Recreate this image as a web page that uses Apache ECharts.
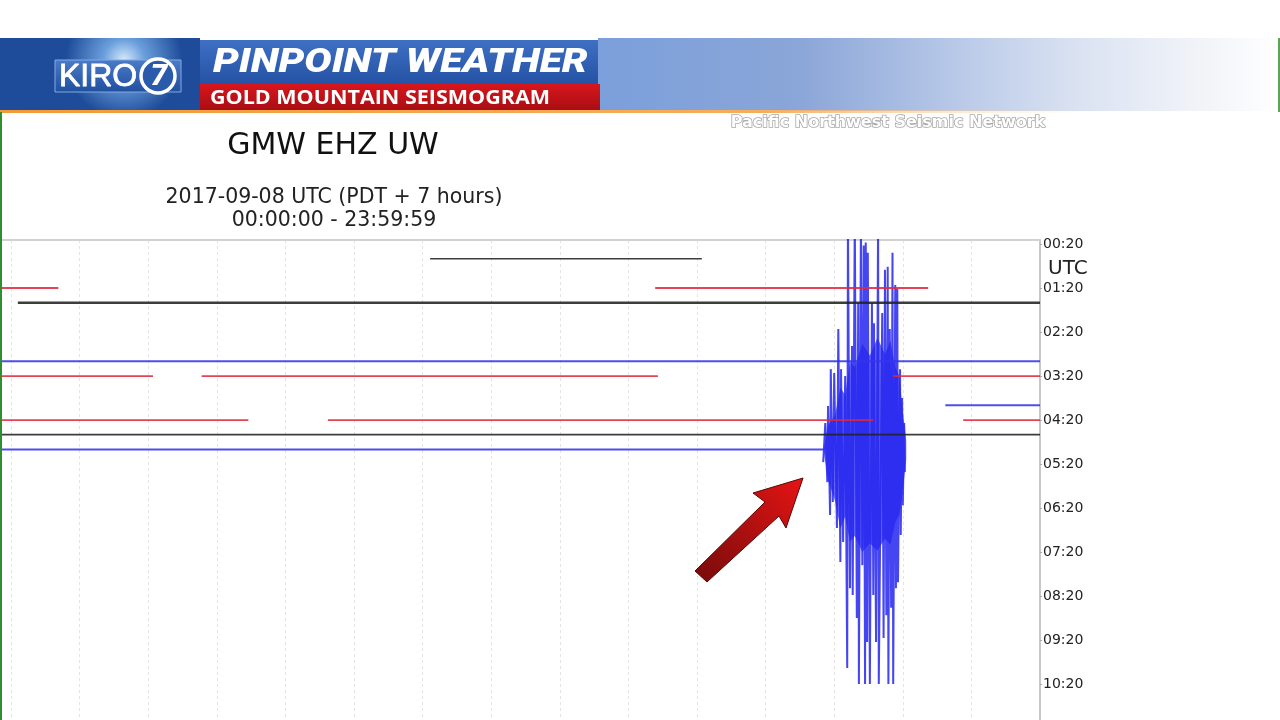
<!DOCTYPE html>
<html><head><meta charset="utf-8">
<script src="https://cdn.jsdelivr.net/npm/echarts@6/dist/echarts.min.js"></script>
<style>html,body{margin:0;padding:0;background:#fff;overflow:hidden}#c{width:1280px;height:720px}</style>
</head><body><div id="c"></div>
<script>
// ---- data ----
// y axis: helicorder row index (each row = 20 min, row 1 = 00:20 UTC)
const tickRows   = [1, 4, 7, 10, 13, 16, 19, 22, 25, 28, 31];
const tickLabels = ['00:20','01:20','02:20','03:20','04:20','05:20','06:20','07:20','08:20','09:20','10:20'];
// x axis: minutes within a row; recorded trace segments
const traceRows  = [2,     4,    4,     5,    9,  10,   10,    10,    12,    13,   13,    13,    14, 15];
const traceStart = [11.11, 0,    14.39, 5.10, 0,  0,    7.78,  17.86, 18.62, 0,    9.62,  18.88, 0,  0];
const traceEnd   = [15.07, 5.69, 18.37, 20,   20, 7.07, 14.43, 20,    20,    8.46, 17.57, 20,    20, 16.87];
// earthquake burst on row 15: minute and peak amplitude (rows, + = up, clipped at 16)
const burstRow = 15;
const burstMinute = [16.84,16.87,16.90,16.91,16.94,16.95,16.98,17.00,17.04,17.06,17.09,17.10,17.13,17.16,17.19,17.20,
  17.23,17.26,17.27,17.30,17.33,17.35,17.36,17.39,17.41,17.43,17.45,17.46,17.48,17.49,17.52,17.55,17.57,17.58,17.61,
  17.64,17.65,17.70,17.72,17.74,17.76,17.78,17.79,17.81,17.83,17.85,17.86,17.89,17.90,17.92,17.93,17.96,17.97,17.99,
  18.00,18.02,18.03];
const burstAmp = [-0.87,1.79,-2.23,2.95,-4.48,5.47,-3.59,5.2,-5.36,8.2,-7.68,5.47,-6.32,5.0,-14.9,16,
  -9.46,7.05,-9.93,16,-11.5,9.97,-16,16,-7.89,13.9,-16,14.1,-13.13,13.4,-16,9.97,-9.93,8.6,-13.13,
  16,-16,9.3,-12.86,12.25,-11.3,12.45,-16,8.2,-10.8,13.4,-16,11.2,-9.46,10.95,-9.05,5.47,-5.84,3.5,
  -3.8,1.79,-1.55];
// dense core of the burst (solid blue band): minute, extent up and down (rows)
const coreMinute = [16.85, 16.91, 17.01, 17.09, 17.16, 17.23, 17.30, 17.41, 17.52, 17.63, 17.74, 17.82, 17.89, 17.95, 17.99, 18.05];
const coreUp     = [0,     1.66,  2.3,   4.2,   3.7,   6.0,   5.6,   7.2,   6.4,   7.6,   6.5,   7.4,   5.6,   5.0,   3.0,   0.63];
const coreDown   = [0.2,   2.1,   3.45,  5.4,   4.6,   6.3,   5.9,   7.0,   6.4,   6.9,   6.1,   6.5,   5.0,   4.4,   3.2,   0.73];

const rowColors = ['#3636ea', '#e2283e', '#222222'];
const rowWidths = { 0: 2, 1: 1.8, 2: 1.8 };
const traceWidth = { 2: 1.5, 5: 2.6 };

const series = [];
series.push({
  type: 'custom', z: 1, silent: true, clip: true,
  data: [0],
  renderItem: function (params, api) {
    const pts = [];
    coreMinute.forEach((m, i) => pts.push(api.coord([m, burstRow - coreUp[i]])));
    for (let i = coreMinute.length - 1; i >= 0; i--) pts.push(api.coord([coreMinute[i], burstRow + coreDown[i]]));
    return { type: 'polygon', shape: { points: pts }, style: { fill: '#3434f2', opacity: 0.75 } };
  }
});
series.push({
  type: 'line', name: 'burst', symbol: 'none', clip: true, z: 2, silent: true,
  lineStyle: { color: '#2424ee', width: 2, opacity: 0.85 },
  data: burstMinute.map((m, i) => [m, burstRow - burstAmp[i]])
});
traceRows.forEach((r, i) => {
  series.push({
    type: 'line', symbol: 'none', clip: true, z: 3, silent: true,
    lineStyle: { color: rowColors[r % 3], width: traceWidth[r] || rowWidths[r % 3], opacity: 0.88 },
    data: [[traceStart[i], r], [traceEnd[i], r]]
  });
});

const chart = echarts.init(document.getElementById('c'), null, { renderer: 'canvas' });
chart.setOption({
  animation: false,
  backgroundColor: '#ffffff',
  grid: { left: 0, right: 240, top: 240, bottom: 0, containLabel: false },
  xAxis: {
    type: 'value', position: 'top', min: 4.84, max: 20, splitNumber: 15, minInterval: 1, maxInterval: 1,
    axisLine: { show: true, onZero: false, lineStyle: { color: '#d2d2d2', width: 2 } },
    axisTick: { show: false }, axisLabel: { show: false },
    splitLine: { show: true, lineStyle: { color: '#e4e4e4', type: [3, 3], width: 1 } }
  },
  yAxis: {
    type: 'value', position: 'right', inverse: true, min: 0.7273, max: 33.447,
    axisLine: { show: true, onZero: false, lineStyle: { color: '#c8c8c8', width: 2 } },
    axisTick: { show: true, customValues: tickRows, length: 2, lineStyle: { color: '#aaa' } },
    splitLine: { show: false },
    axisLabel: {
      customValues: tickRows, margin: 3, color: '#222',
      fontFamily: 'DejaVu Sans', fontSize: 14,
      formatter: v => tickLabels[tickRows.indexOf(Math.round(v))] || ''
    }
  },
  series: series,
  graphic: [
    // header background pieces
    { type: 'rect', z: 10, shape: { x: 598, y: 38, width: 682, height: 73 },
      style: { fill: new echarts.graphic.LinearGradient(0, 0, 1, 0, [
        { offset: 0, color: '#7b9fdb' }, { offset: 0.3, color: '#8ba6d8' }, { offset: 0.5, color: '#b3c5e6' },
        { offset: 0.7, color: '#dae2f2' }, { offset: 0.88, color: '#f1f3f8' }, { offset: 1, color: '#ffffff' }]) } },
    { type: 'rect', z: 10, shape: { x: 0, y: 38, width: 200, height: 73 },
      style: { fill: new echarts.graphic.RadialGradient(0.62, 0.3, 0.8, [
        { offset: 0, color: '#d6eafb' }, { offset: 0.35, color: '#6b9fdc' }, { offset: 1, color: '#1e4c9a' }]) } },
    { type: 'rect', z: 11, shape: { x: 55, y: 60, width: 126, height: 32 },
      style: { fill: new echarts.graphic.LinearGradient(0, 0, 0, 1, [
        { offset: 0, color: '#4a7cca' }, { offset: 1, color: '#1f4f9f' }]), stroke: '#86a9de', lineWidth: 1 } },
    { type: 'text', z: 12, x: 59, y: 77,
      style: { text: 'KIRO', fill: '#ffffff', font: '32px "Liberation Sans", Arial, sans-serif',
        textVerticalAlign: 'middle', stroke: '#ffffff', lineWidth: 0.8 } },
    { type: 'circle', z: 12, shape: { cx: 158, cy: 76, r: 17 },
      style: { fill: '#2a5aac', stroke: '#ffffff', lineWidth: 3.5 } },
    { type: 'text', z: 13, x: 159, y: 77,
      style: { text: '7', fill: '#ffffff', font: 'italic 900 30px Roboto, "Liberation Sans", sans-serif',
        textAlign: 'center', textVerticalAlign: 'middle' } },
    { type: 'rect', z: 11, shape: { x: 200, y: 40, width: 398, height: 44 },
      style: { fill: new echarts.graphic.LinearGradient(0, 0, 0, 1, [
        { offset: 0, color: '#3f70c4' }, { offset: 1, color: '#2452a4' }]) } },
    { type: 'text', z: 12, x: 213, y: 63, scaleX: 1.2, originX: 0, originY: 0,
      style: { text: 'PINPOINT WEATHER', fill: '#ffffff', font: 'italic 900 34px Roboto, "Liberation Sans", sans-serif',
        textVerticalAlign: 'middle' } },
    { type: 'rect', z: 11, shape: { x: 200, y: 84, width: 400, height: 26 },
      style: { fill: new echarts.graphic.LinearGradient(0, 0, 0, 1, [
        { offset: 0, color: '#d8161c' }, { offset: 1, color: '#a80e14' }]) } },
    { type: 'text', z: 12, x: 210, y: 98, scaleX: 1.075, originX: 0, originY: 0,
      style: { text: 'GOLD MOUNTAIN SEISMOGRAM', fill: '#ffffff', font: 'bold 20px "Open Sans", sans-serif',
        textVerticalAlign: 'middle' } },
    { type: 'rect', z: 12, shape: { x: 0, y: 110, width: 1280, height: 3 },
      style: { fill: new echarts.graphic.LinearGradient(0, 0, 1, 0, [
        { offset: 0, color: '#f29a36' }, { offset: 0.6, color: '#f6ad5c' }, { offset: 0.85, color: 'rgba(250,220,180,0)' }, { offset: 1, color: 'rgba(255,255,255,0)' }]) } },
    // frame green edges
    { type: 'rect', z: 12, shape: { x: 0, y: 112, width: 2, height: 608 }, style: { fill: '#2f8f2f' } },
    { type: 'rect', z: 12, shape: { x: 1278, y: 38, width: 2, height: 74 }, style: { fill: '#5aa55a' } },
    // texts
    { type: 'text', z: 12, x: 888, y: 123,
      style: { text: 'Pacific Northwest Seismic Network', fill: '#ffffff', stroke: '#a8a8a8', lineWidth: 1.6,
        font: 'bold 16px "DejaVu Sans", sans-serif', textAlign: 'center', textVerticalAlign: 'middle' } },
    { type: 'text', z: 12, x: 333, y: 146,
      style: { text: 'GMW EHZ UW', fill: '#111111', font: '30px "DejaVu Sans", sans-serif',
        textAlign: 'center', textVerticalAlign: 'middle' } },
    { type: 'text', z: 12, x: 334, y: 198,
      style: { text: '2017-09-08 UTC (PDT + 7 hours)', fill: '#222222', font: '20.5px "DejaVu Sans", sans-serif',
        textAlign: 'center', textVerticalAlign: 'middle' } },
    { type: 'text', z: 12, x: 334, y: 221,
      style: { text: '00:00:00 - 23:59:59', fill: '#222222', font: '20.5px "DejaVu Sans", sans-serif',
        textAlign: 'center', textVerticalAlign: 'middle' } },
    { type: 'text', z: 12, x: 1048, y: 269,
      style: { text: 'UTC', fill: '#222222', font: '20px "DejaVu Sans", sans-serif', textVerticalAlign: 'middle' } },
    // annotation arrow
    { type: 'polygon', z: 12,
      shape: { points: [[695, 571], [765, 502], [753, 493], [803, 478], [786, 528], [779, 516], [707, 582]] },
      style: { fill: new echarts.graphic.LinearGradient(0, 1, 1, 0, [
        { offset: 0, color: '#760b0b' }, { offset: 1, color: '#e61414' }]), stroke: '#5a0707', lineWidth: 1 } }
  ]
});
</script></body></html>
